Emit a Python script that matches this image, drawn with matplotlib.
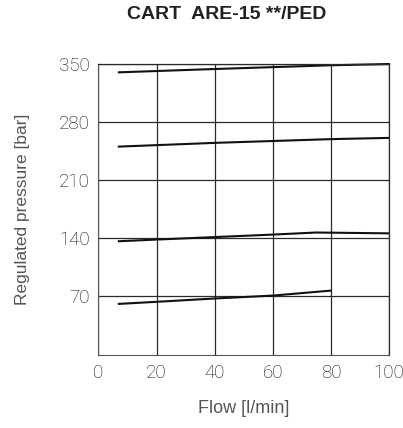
import matplotlib.pyplot as plt
import numpy as np

# curves: flow [l/min] -> regulated pressure [bar]
flow_350 = [7, 40, 80, 100]
pres_350 = [340, 344, 348.5, 350]
flow_280 = [7, 40, 80, 100]
pres_280 = [250.5, 255, 259.5, 261]
flow_140 = [7, 20, 40, 60, 75, 100]
pres_140 = [136.5, 138.5, 141.5, 144.5, 147, 146]
flow_70 = [7, 20, 40, 60, 80]
pres_70 = [61, 63.5, 67.5, 71, 77]

x_ticks = [0, 20, 40, 60, 80, 100]
y_ticks = [70, 140, 210, 280, 350]

fig = plt.figure(figsize=(4.03, 4.28), dpi=100)
ax = fig.add_axes([0.2444, 0.1717, 0.7208, 0.6787])

for fx, py in [(flow_350, pres_350), (flow_280, pres_280),
               (flow_140, pres_140), (flow_70, pres_70)]:
    ax.plot(fx, py, color='#111111', linewidth=1.5, clip_on=False)

ax.set_xlim(0, 100)
ax.set_ylim(0, 350)
ax.set_xticks(x_ticks)
ax.set_yticks(y_ticks)
ax.grid(True, color='#2a2a2a', linewidth=0.9)
ax.tick_params(axis='y', length=0, pad=6)
ax.tick_params(axis='x', length=0, pad=7)
for lab in ax.get_xticklabels() + ax.get_yticklabels():
    lab.set_family(['Roboto', 'DejaVu Sans'])
    lab.set_fontweight('light')
    lab.set_fontsize(13.5)
    lab.set_color('#111111')

ax.spines['top'].set_color('#2a2a2a')
ax.spines['right'].set_color('#2a2a2a')
ax.spines['top'].set_linewidth(0.9)
ax.spines['right'].set_linewidth(0.9)
ax.spines['left'].set_color('#555555')
ax.spines['bottom'].set_color('#555555')

ax.set_xlabel('Flow [l/min]', fontsize=13, color='#555555', labelpad=13,
              family='Liberation Sans')
ax.set_ylabel('Regulated pressure [bar]', fontsize=12.5, color='#555555',
              labelpad=21, family='Liberation Sans')
fig.text(0.563, 0.965, 'CART  ARE-15 **/PED', ha='center', va='center',
         fontsize=14, fontweight='bold', color='#222222', family='Liberation Sans')

fig.savefig('out.png', dpi=100)
